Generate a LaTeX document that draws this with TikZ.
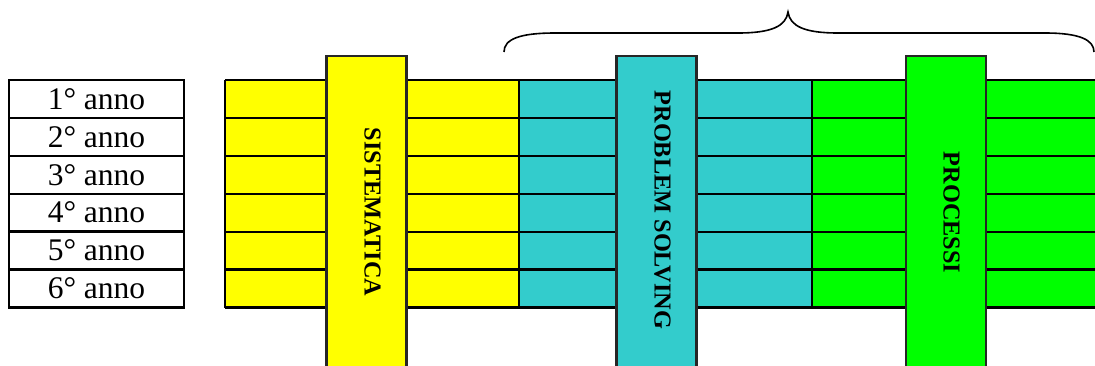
\documentclass[tikz,border=0pt]{standalone}
\usepackage{fontspec}
\setmainfont{Liberation Serif}
\definecolor{barY}{HTML}{FFFF00}
\definecolor{barC}{HTML}{33CCCC}
\definecolor{barG}{HTML}{00FF00}
\tikzset{
  yearbox/.style={draw=black, line width=2.2pt, minimum width=175pt, minimum height=38pt, inner sep=0pt, font=\fontsize{31.5}{33}\selectfont},
  rowline/.style={draw=black, line width=2.2pt},
  vbarbox/.style={draw=black!85, line width=2.2pt},
  vlabel/.style={rotate=-90, font=\fontsize{24.3}{26}\selectfont\bfseries, inner sep=0pt},
  bracestyle/.style={draw=black, line width=1.6pt}
}
\begin{document}
\begin{tikzpicture}[x=1pt,y=-1pt]
\useasboundingbox (0,0) rectangle (1095,365);
% year table
\foreach \i in {1,...,6}{
  \node[yearbox] (r\i) at (96.5, {80+(\i-0.5)*37.9}) {\i° anno};
}
% coloured strips
\fill[barY] (225,80) rectangle (519,307.5);
\fill[barC] (519,80) rectangle (812,307.5);
\fill[barG] (812,80) rectangle (1100,307.5);
\foreach \k in {0,...,6}{
  \draw[rowline] (225,{80+\k*37.9}) -- (1100,{80+\k*37.9});
}
\draw[rowline] (225,80) -- (225,307.5);
\draw[rowline] (519,80) -- (519,307.5);
\draw[rowline] (812,80) -- (812,307.5);
% vertical bars
\draw[vbarbox, fill=barY] (326.5,56) rectangle (406.5,372);
\draw[vbarbox, fill=barC] (616.5,56) rectangle (696.5,372);
\draw[vbarbox, fill=barG] (906,56) rectangle (986,372);
\node[vlabel] (sis) at (372.5,212) {SISTEMATICA};
\node[vlabel] (ps) at (662.5,210) {PROBLEM SOLVING};
\node[vlabel] (pro) at (951.5,212.5) {PROCESSI};
% brace
\draw[bracestyle] (504,52) .. controls (504,39) and (520,33) .. (555,33) -- (738,33)
  .. controls (772,33) and (786,26) .. (788,12)
  .. controls (790,26) and (804,33) .. (838,33) -- (1045,33)
  .. controls (1080,33) and (1094,40) .. (1094,52);
\end{tikzpicture}
\end{document}
